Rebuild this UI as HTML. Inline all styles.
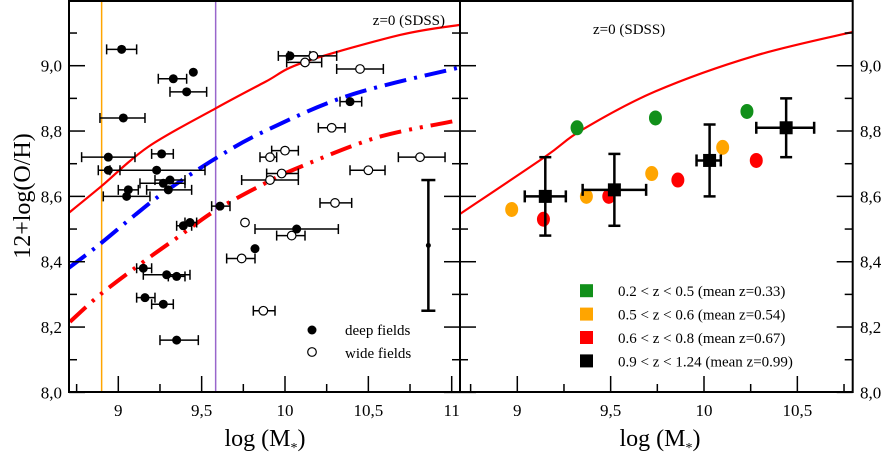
<!DOCTYPE html>
<html><head><meta charset="utf-8"><style>
body{margin:0;background:#fff}
svg{display:block;font-family:"Liberation Serif","DejaVu Serif",serif}
</style></head><body>
<svg id="c" width="889" height="453" viewBox="0 0 889 453"></svg>
<script>
// ---- data ----
const yTicks=[8.0,8.2,8.4,8.6,8.8,9.0];
const yTickLabels=["8,0","8,2","8,4","8,6","8,8","9,0"];
const xTicksL=[9,9.5,10,10.5,11];
const xTickLabelsL=["9","9,5","10","10,5","11"];
const xTicksR=[9,9.5,10,10.5];
const xTickLabelsR=["9","9,5","10","10,5"];
const vlines=[8.9,9.584];
const sdssL=[[8.68,8.54],[8.896,8.63],[9.18,8.752],[9.586,8.87],[9.88,8.95],[10.11,9.01],[10.69,9.094],[11.05,9.125]];
const blueL=[[8.70,8.38],[8.88,8.45],[9.10,8.543],[9.28,8.614],[9.586,8.717],[9.88,8.80],[10.39,8.91],[11.05,8.995]];
const redDL=[[8.71,8.216],[8.90,8.303],[9.17,8.407],[9.36,8.476],[9.586,8.558],[9.88,8.64],[10.09,8.69],[10.55,8.78],[11.01,8.83]];
// deep: [x,y,xlo,xhi]  (xlo/xhi null = no error bar)
const deep=[[9.02,9.05,8.93,9.11],[9.33,8.96,9.24,9.41],[9.45,8.98,null,null],[9.41,8.92,9.31,9.53],[9.03,8.84,8.89,9.16],
[8.94,8.72,8.78,9.10],[9.26,8.73,9.20,9.33],[8.94,8.68,8.88,9.01],[9.23,8.68,8.95,9.52],[9.27,8.64,9.13,9.40],[9.31,8.65,9.22,9.40],
[9.06,8.62,9.00,9.12],[9.05,8.60,8.91,9.19],[9.30,8.62,9.17,9.44],[9.61,8.57,9.56,9.67],[9.39,8.51,9.35,9.44],[9.43,8.52,9.40,9.47],
[9.82,8.44,null,null],[9.15,8.38,9.11,9.20],[9.29,8.36,9.15,9.43],[9.35,8.355,9.30,9.40],[9.16,8.29,9.11,9.22],[9.27,8.27,9.20,9.33],
[9.35,8.16,9.25,9.48],[10.03,9.03,9.96,10.15],[10.39,8.89,10.33,10.46],[10.07,8.50,9.82,10.32]];
const wide=[[10.17,9.03,10.02,10.31],[10.12,9.01,10.01,10.22],[10.45,8.99,10.31,10.59],[10.28,8.81,10.20,10.36],[10.00,8.74,9.92,10.08],
[9.91,8.72,9.85,9.95],[10.81,8.72,10.68,10.96],[9.98,8.67,9.89,10.08],[10.50,8.68,10.39,10.60],[9.91,8.65,9.74,10.08],
[10.30,8.58,10.21,10.40],[9.76,8.52,null,null],[10.04,8.48,9.95,10.12],[9.74,8.41,9.65,9.82],[9.87,8.25,9.81,9.94]];
const bigErr=[10.86,8.45,8.25,8.65];
const sdssR=[[8.69,8.545],[9.148,8.721],[9.345,8.803],[9.738,8.921],[10.27,9.03],[10.81,9.105]];
const green=[[9.32,8.81],[9.74,8.84],[10.23,8.86]];
const orange=[[8.97,8.56],[9.37,8.60],[9.72,8.67],[10.10,8.75]];
const red=[[9.14,8.53],[9.49,8.60],[9.86,8.65],[10.28,8.71]];
// black: [x,y,xlo,xhi,ylo,yhi]
const black=[[9.15,8.60,9.04,9.26,8.48,8.72],[9.52,8.62,9.35,9.69,8.51,8.73],[10.03,8.71,9.96,10.09,8.60,8.82],[10.44,8.81,10.28,10.59,8.72,8.90]];
const legendR=["0.2 < z < 0.5 (mean z=0.33)","0.5 < z < 0.6 (mean z=0.54)","0.6 < z < 0.8 (mean z=0.67)","0.9 < z < 1.24 (mean z=0.99)"];
const legendColors=["#11901a","#ffa500","#ff0000","#000000"];

// ---- scales ----
const Y0=65.7, YK=326.7, Ybot=392;
const y=v=>Y0+(9-v)*YK;
const xL=v=>118.3+(v-9)*166.7;
const xR=v=>517.3+(v-9)*186.7;
const svg=document.getElementById('c');
const NS="http://www.w3.org/2000/svg";
function mk(tag,at,parent){const e=document.createElementNS(NS,tag);for(const k in at)e.setAttribute(k,at[k]);(parent||svg).appendChild(e);return e;}
// smooth monotone-ish curve through points (Catmull-Rom)
function path(pts,fx){const P=pts.map(p=>[fx(p[0]),y(p[1])]);let d="M"+P[0][0]+","+P[0][1];
 for(let i=1;i<P.length;i++){const p0=P[Math.max(i-2,0)],p1=P[i-1],p2=P[i],p3=P[Math.min(i+1,P.length-1)];
 const c1x=p1[0]+(p2[0]-p0[0])/6,c1y=p1[1]+(p2[1]-p0[1])/6;
 const c2x=p2[0]-(p3[0]-p1[0])/6,c2y=p2[1]-(p3[1]-p1[1])/6;
 d+=" C"+c1x+","+c1y+" "+c2x+","+c2y+" "+p2[0]+","+p2[1];}return d;}

const defs=mk('defs',{});
const cl=mk('clipPath',{id:'clL'},defs);mk('rect',{x:69,y:1,width:391,height:391},cl);
const cr=mk('clipPath',{id:'clR'},defs);mk('rect',{x:460,y:1,width:393,height:391},cr);

const gL=mk('g',{'clip-path':'url(#clL)'});


const gR=mk('g',{'clip-path':'url(#clR)'});



const vc=["#ffa500","#9966cc"];
vlines.forEach((v,i)=>{const l=mk('line',{x1:xL(v),x2:xL(v),y1:1,y2:Ybot,stroke:vc[i],'stroke-width':1.5},gL);
 
 });

let p=mk('path',{d:path(sdssL,xL),fill:'none',stroke:'#ff0000','stroke-width':2.2},gL);


p=mk('path',{d:path(blueL,xL),fill:'none',stroke:'#0000ff','stroke-width':4,'stroke-dasharray':'22,8,3,8'},gL);


p=mk('path',{d:path(redDL,xL),fill:'none',stroke:'#ff0000','stroke-width':4,'stroke-dasharray':'22,8,3,8,3,8'},gL);


p=mk('path',{d:path(sdssR,xR),fill:'none',stroke:'#ff0000','stroke-width':2.2},gR);



function xerr(g,fx,yy,lo,hi){const a=fx(lo),b=fx(hi),py=y(yy);
 mk('line',{x1:a,x2:b,y1:py,y2:py,stroke:'#000','stroke-width':1.5},g);
 mk('line',{x1:a,x2:a,y1:py-5,y2:py+5,stroke:'#000','stroke-width':1.5},g);
 mk('line',{x1:b,x2:b,y1:py-5,y2:py+5,stroke:'#000','stroke-width':1.5},g);}
deep.forEach(d=>{const g=mk('g',{},gL);
 
 
 if(d[2]!==null)xerr(g,xL,d[1],d[2],d[3]);
 mk('circle',{cx:xL(d[0]),cy:y(d[1]),r:4.5,fill:'#000'},g);});
wide.forEach(d=>{const g=mk('g',{},gL);
 
 
 if(d[2]!==null)xerr(g,xL,d[1],d[2],d[3]);
 mk('circle',{cx:xL(d[0]),cy:y(d[1]),r:4.3,fill:'#fff',stroke:'#000','stroke-width':1.2},g);});
{const g=mk('g',{},gL);
 
 
 const bx=xL(bigErr[0]);
 mk('line',{x1:bx,x2:bx,y1:y(bigErr[2]),y2:y(bigErr[3]),stroke:'#000','stroke-width':2.5},g);
 mk('line',{x1:bx-7,x2:bx+7,y1:y(bigErr[2]),y2:y(bigErr[2]),stroke:'#000','stroke-width':2.5},g);
 mk('line',{x1:bx-7,x2:bx+7,y1:y(bigErr[3]),y2:y(bigErr[3]),stroke:'#000','stroke-width':2.5},g);
 mk('circle',{cx:bx,cy:y(bigErr[1]),r:2.5,fill:'#000'},g);}

[[green,'#11901a','green'],[orange,'#ffa500','orange'],[red,'#ff0000','red']].forEach(([arr,c,n])=>{
 arr.forEach(d=>{const e=mk('ellipse',{cx:xR(d[0]),cy:y(d[1]),rx:6.5,ry:7.5,fill:c},gR);
 
 });});
black.forEach(d=>{const g=mk('g',{},gR);
 
 
 const px=xR(d[0]),py=y(d[1]),a=xR(d[2]),b=xR(d[3]),t=y(d[5]),u=y(d[4]);
 const s={stroke:'#000','stroke-width':2.5};
 mk('line',Object.assign({x1:a,x2:b,y1:py,y2:py},s),g);
 mk('line',Object.assign({x1:a,x2:a,y1:py-6,y2:py+6},s),g);
 mk('line',Object.assign({x1:b,x2:b,y1:py-6,y2:py+6},s),g);
 mk('line',Object.assign({x1:px,x2:px,y1:t,y2:u},s),g);
 mk('line',Object.assign({x1:px-6,x2:px+6,y1:t,y2:t},s),g);
 mk('line',Object.assign({x1:px-6,x2:px+6,y1:u,y2:u},s),g);
 mk('rect',{x:px-6.5,y:py-6.5,width:13,height:13,fill:'#000'},g);});

let f=mk('rect',{x:69,y:1,width:391,height:391,fill:'none',stroke:'#000','stroke-width':2});

f=mk('rect',{x:460,y:1,width:392.7,height:391,fill:'none',stroke:'#000','stroke-width':2});


for(let v=8.0;v<=9.15;v+=0.1){const py=y(v);const major=Math.round(v*10)%2==0;const L=major?16:8;
 [[69,1],[460,-1],[460,1],[852.7,-1]].forEach(([x0,dir])=>mk('line',{x1:x0,x2:x0+dir*L,y1:py,y2:py,stroke:'#000','stroke-width':1.5}));}
yTicks.forEach((v,i)=>{let t=mk('text',{x:62,y:y(v)+6,'text-anchor':'end','font-size':17});t.textContent=yTickLabels[i];
 
 t=mk('text',{x:860,y:y(v)+6,'font-size':17});t.textContent=yTickLabels[i];
 });
for(let v=8.75;v<=11.05;v+=0.25){const px=xL(v);const major=Math.abs(v*2-Math.round(v*2))<0.01;
 mk('line',{x1:px,x2:px,y1:Ybot,y2:Ybot-(major?16:8),stroke:'#000','stroke-width':1.5});}
for(let v=8.75;v<=10.8;v+=0.25){const px=xR(v);const major=Math.abs(v*2-Math.round(v*2))<0.01;
 mk('line',{x1:px,x2:px,y1:Ybot,y2:Ybot-(major?16:8),stroke:'#000','stroke-width':1.5});}
xTicksL.forEach((v,i)=>{const t=mk('text',{x:xL(v),y:416,'text-anchor':'middle','font-size':17});t.textContent=xTickLabelsL[i];
 });
xTicksR.forEach((v,i)=>{const t=mk('text',{x:xR(v),y:416,'text-anchor':'middle','font-size':17});t.textContent=xTickLabelsR[i];
 });

function txt(x,yy,s,size,name,anchor){const t=mk('text',{x:x,y:yy,'font-size':size,'text-anchor':anchor||'start'});t.innerHTML=s;
 return t;}
txt(445,25,'z=0 (SDSS)',15,'sdss-label-left','end');
txt(593,34,'z=0 (SDSS)',15,'sdss-label-right');
txt(265,446,'log (M<tspan font-size="14" dy="6">*</tspan><tspan dy="-6">)</tspan>',24,'x-axis-title-left','middle');
txt(660,446,'log (M<tspan font-size="14" dy="6">*</tspan><tspan dy="-6">)</tspan>',24,'x-axis-title-right','middle');
const yt=txt(0,0,'12+log(O/H)',24,'y-axis-title','middle');yt.setAttribute('transform','translate(30,196) rotate(-90)');

let lg=mk('circle',{cx:312,cy:330,r:4.5,fill:'#000'});
txt(345,335,'deep fields',15,'legend-deep-label');
lg=mk('circle',{cx:312,cy:352,r:4.3,fill:'#fff',stroke:'#000','stroke-width':1.2});
txt(345,358,'wide fields',15,'legend-wide-label');
legendR.forEach((s,i)=>{const yy=290.7+i*23.4;
 const r=mk('rect',{x:580,y:yy-6.5,width:13,height:13,fill:legendColors[i]});
 
 txt(618,yy+5.5,s.replace(/</g,'&lt;'),15,'legend-label-bin-'+(i+1));});
</script>
</body></html>
